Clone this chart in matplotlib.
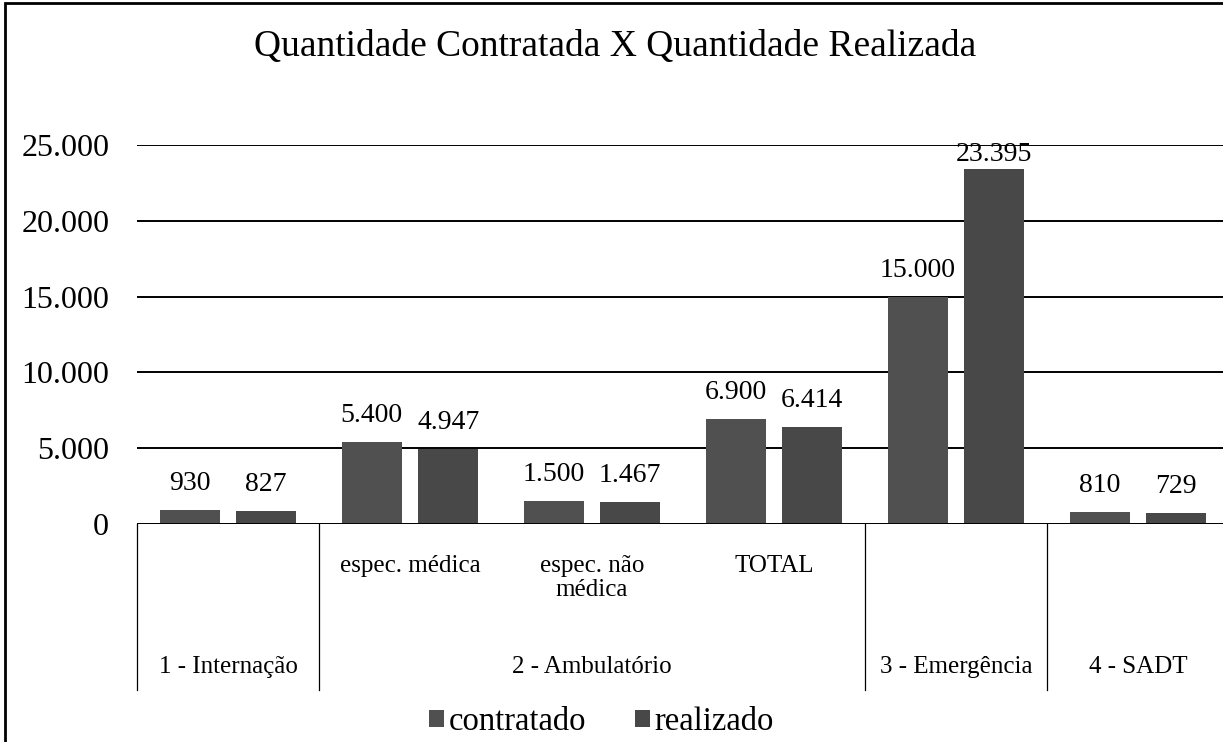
import matplotlib.pyplot as plt
from matplotlib.patches import Rectangle
import numpy as np

# data
subcats = ['', 'espec. médica', 'espec. não\nmédica', 'TOTAL', '', '']
groups = ['1 - Internação', '2 - Ambulatório', '3 - Emergência', '4 - SADT']
group_span = [(0, 1), (1, 4), (4, 5), (5, 6)]
contratado = [930, 5400, 1500, 6900, 15000, 810]
realizado = [827, 4947, 1467, 6414, 23395, 729]

plt.rcParams['font.family'] = ['Liberation Serif', 'DejaVu Serif']

fig = plt.figure(figsize=(12.23, 7.42), dpi=100)
ax = fig.add_axes([0.112, 0.2938, 0.893, 0.5108])

x = np.arange(len(contratado)) + 0.5
w = 0.33
off = 0.21
b1 = ax.bar(x - off, contratado, w, color='#505050', label='contratado', zorder=3)
b2 = ax.bar(x + off, realizado, w, color='#484848', label='realizado', zorder=3)

def fmt(v):
    return f'{v:,}'.replace(',', '.')

ymax = 25000
lab_off = 1750          # label gap above the bar (data units)
lab_cap = ymax - 660    # labels are pushed down to stay inside the plot
for bars, vals in [(b1, contratado), (b2, realizado)]:
    for r, v in zip(bars, vals):
        ax.text(r.get_x() + r.get_width() / 2, min(v + lab_off, lab_cap), fmt(v),
                ha='center', va='center', fontsize=20, zorder=2)

ax.set_xlim(0, 6)
ax.set_ylim(0, ymax)
ax.set_yticks(range(0, ymax + 1, 5000))
ax.set_yticklabels([fmt(v) for v in range(0, ymax + 1, 5000)], fontsize=23)
ax.tick_params(axis='y', length=0, pad=20)
ax.set_xticks([])
for s in ['left', 'right', 'top', 'bottom']:
    ax.spines[s].set_visible(False)
ax.grid(axis='y', color='black', linewidth=1.4, zorder=2.5)
ax.axhline(0, color='black', linewidth=1.4, zorder=4)

# category axis labels
tr = ax.get_xaxis_transform()
for xi, s in zip(x, subcats):
    if s:
        ax.text(xi, -0.083, s, transform=tr, ha='center', va='top', fontsize=18,
                linespacing=1.1)
for (a, b), g in zip(group_span, groups):
    ax.text((a + b) / 2, -0.377, g, transform=tr, ha='center', va='center', fontsize=18)
for xv in [0, 1, 4, 5]:
    ax.plot([xv, xv], [0, -0.438], transform=tr, color='black', linewidth=0.9, clip_on=False)

fig.text(0.503, 0.937, 'Quantidade Contratada X Quantidade Realizada', ha='center',
         va='center', fontsize=27)

fig.legend(handles=[b1, b2], loc='center', bbox_to_anchor=(0.492, 0.027), ncol=2,
           frameon=False, fontsize=23.5, handlelength=0.45, handleheight=0.45,
           handletextpad=0.15, columnspacing=1.5)

fig.add_artist(Rectangle((0.004, -0.01), 1.1, 1.006, transform=fig.transFigure,
                         fill=False, edgecolor='black', linewidth=2))

fig.savefig('out.png', dpi=100)
